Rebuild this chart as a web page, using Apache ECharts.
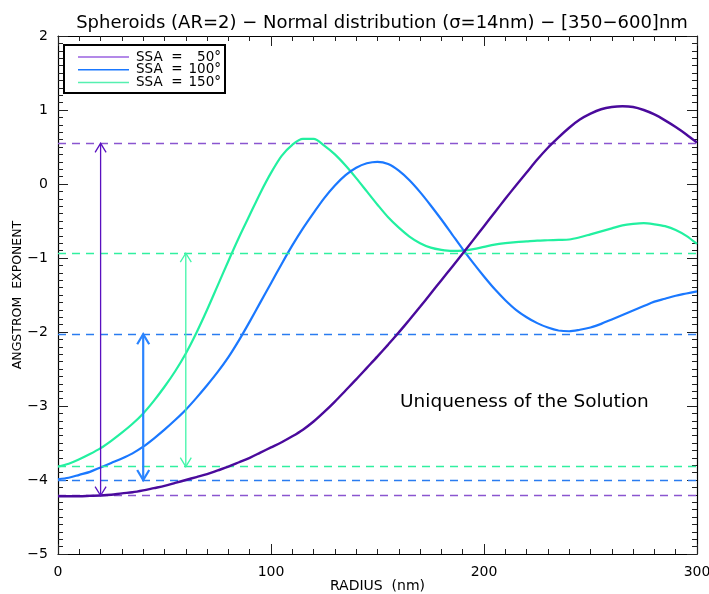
<!DOCTYPE html>
<html>
<head>
<meta charset="utf-8">
<script src="https://cdn.jsdelivr.net/npm/echarts@6/dist/echarts.min.js"></script>
<style>html,body{margin:0;padding:0;background:#fff}#c{width:709px;height:594px}</style>
</head>
<body>
<div id="c"></div>
<script>
// ---- data ----
const radius = [0,5,10,15,20,25,30,35,40,45,50,55,60,65,70,75,80,85,90,95,100,105,110,115,120,125,130,135,140,145,150,155,160,165,170,175,180,185,190,195,200,205,210,215,220,225,230,235,240,245,250,255,260,265,270,275,280,285,290,295,300];
const ssa50 = [-4.22,-4.22,-4.22,-4.215,-4.21,-4.20,-4.18,-4.165,-4.14,-4.11,-4.08,-4.04,-4.00,-3.96,-3.92,-3.87,-3.82,-3.76,-3.70,-3.63,-3.56,-3.49,-3.41,-3.32,-3.21,-3.08,-2.94,-2.79,-2.64,-2.485,-2.33,-2.17,-2.005,-1.835,-1.66,-1.48,-1.30,-1.12,-0.94,-0.755,-0.57,-0.385,-0.20,-0.02,0.155,0.33,0.49,0.63,0.76,0.87,0.95,1.01,1.04,1.05,1.04,1.00,0.94,0.86,0.77,0.67,0.56];
const ssa100 = [-3.99,-3.97,-3.93,-3.89,-3.83,-3.77,-3.71,-3.64,-3.55,-3.44,-3.32,-3.19,-3.05,-2.89,-2.72,-2.54,-2.34,-2.11,-1.86,-1.60,-1.34,-1.08,-0.83,-0.60,-0.39,-0.19,-0.02,0.12,0.22,0.28,0.30,0.27,0.18,0.05,-0.11,-0.29,-0.48,-0.68,-0.88,-1.07,-1.25,-1.42,-1.57,-1.70,-1.80,-1.88,-1.94,-1.98,-1.99,-1.97,-1.94,-1.89,-1.83,-1.77,-1.71,-1.65,-1.59,-1.55,-1.51,-1.48,-1.45];
const ssa150 = [-3.82,-3.78,-3.72,-3.65,-3.57,-3.47,-3.36,-3.24,-3.10,-2.93,-2.74,-2.53,-2.29,-2.01,-1.70,-1.37,-1.04,-0.72,-0.42,-0.12,0.15,0.38,0.53,0.61,0.61,0.52,0.40,0.25,0.08,-0.10,-0.28,-0.45,-0.59,-0.71,-0.80,-0.86,-0.89,-0.905,-0.90,-0.88,-0.85,-0.82,-0.80,-0.785,-0.775,-0.765,-0.76,-0.755,-0.75,-0.72,-0.68,-0.64,-0.60,-0.56,-0.54,-0.53,-0.545,-0.57,-0.62,-0.70,-0.81];
const seriesNames = ['SSA = 50°','SSA = 100°','SSA = 150°'];
const legendNumbers = ['50°','100°','150°'];
const levels50 = [0.55,-4.21];
const levels100 = [-2.03,-4.00];
const levels150 = [-0.935,-3.82];
const arrowX = [20,40,60];
const arrowLow = [-4.21,-4.00,-3.82];
const arrowHigh = [0.55,-2.03,-0.935];
const xTicks = [0,100,200,300];
const yTicks = [-5,-4,-3,-2,-1,0,1,2];

// ---- styles ----
const curveColors = ['#4a0a9c','#1a78ff','#22f0a0'];
const legendColors = ['#9a62e0','#1a78ff','#55f0b0'];
const dashColors = ['#8a55d0','#2a7cf0','#30f0a0'];
const arrowColors = ['#5a10c0','#2a84ff','#40f5a8'];
const arrowWidths = [1.3,2.2,1.3];
const FONT = 'DejaVu Sans';

const chart = echarts.init(document.getElementById('c'), null, {renderer:'canvas'});
const pairs = arr => radius.map((r,i)=>[r,arr[i]]);
const dashLine = (vals,color) => ({
  silent:true, symbol:'none', label:{show:false},
  lineStyle:{color:color,type:[8,6],width:1.3},
  emphasis:{disabled:true},
  data: vals.map(v=>({yAxis:v}))
});
const tickCommon = () => ({
  axisLine:{show:true,onZero:false,lineStyle:{color:'#000',width:1.2}},
  axisTick:{show:true,inside:true,length:10,lineStyle:{color:'#222',width:1}},
  minorTick:{show:true,splitNumber:10,length:5,lineStyle:{color:'#222',width:1}},
  splitLine:{show:false},
  minorSplitLine:{show:false}
});
const fmtNum = v => String(v).replace('-','\u2212');

// legend drawn as graphic (box, sample lines, real text)
const legendGraphic = {
  type:'group', left:63, top:44, silent:true,
  children:[
    {type:'rect',shape:{x:0,y:0,width:161,height:48},style:{fill:'#fff',stroke:'#000',lineWidth:2}}
  ].concat(seriesNames.flatMap((n,i)=>{
    const y = 12 + i*12.8;
    return [
      {type:'line',shape:{x1:14,y1:y,x2:65,y2:y},style:{stroke:legendColors[i],lineWidth:1.5}},
      {type:'text',x:72,y:y,style:{text:'SSA  =',fontFamily:FONT,fontSize:13.5,fill:'#000',verticalAlign:'middle',align:'left'}},
      {type:'text',x:157,y:y,style:{text:legendNumbers[i],fontFamily:FONT,fontSize:13.5,fill:'#000',verticalAlign:'middle',align:'right'}}
    ];
  }))
};

const option = {
  backgroundColor:'#fff',
  animation:false,
  title:{
    text:'Spheroids (AR=2) \u2212 Normal distribution (\u03c3=14nm) \u2212 [350\u2212600]nm',
    left:377, top:9, textAlign:'center',
    textStyle:{fontFamily:FONT,fontSize:18,fontWeight:'normal',color:'#000'}
  },
  grid:{left:58,right:12,top:36,bottom:40,containLabel:false,outerBoundsMode:'none'},
  xAxis:[
    Object.assign({type:'value',min:xTicks[0],max:xTicks[xTicks.length-1],interval:100,position:'bottom',
      name:'RADIUS  (nm)',nameLocation:'middle',nameGap:25,nameMoveOverlap:false,
      nameTextStyle:{fontFamily:FONT,fontSize:14,color:'#000'},
      axisLabel:{fontFamily:FONT,fontSize:14,color:'#000',margin:11,formatter:fmtNum}},tickCommon()),
    Object.assign({type:'value',min:xTicks[0],max:xTicks[xTicks.length-1],interval:100,position:'top',
      axisLabel:{show:false}},tickCommon())
  ],
  yAxis:[
    Object.assign({type:'value',min:yTicks[0],max:yTicks[yTicks.length-1],interval:1,position:'left',
      name:'ANGSTROM  EXPONENT',nameLocation:'middle',nameGap:34,nameRotate:90,nameMoveOverlap:false,
      nameTextStyle:{fontFamily:FONT,fontSize:12.5,color:'#000'},
      axisLabel:{fontFamily:FONT,fontSize:14,color:'#000',margin:10,formatter:fmtNum}},tickCommon()),
    Object.assign({type:'value',min:yTicks[0],max:yTicks[yTicks.length-1],interval:1,position:'right',
      axisLabel:{show:false}},tickCommon())
  ],
  graphic:[
    legendGraphic,
    {type:'text', left:400, top:393, silent:true,
     style:{text:'Uniqueness of the Solution',fontFamily:FONT,fontSize:18.5,fill:'#000'}}
  ],
  series:[
    {name:seriesNames[0],type:'line',data:pairs(ssa50),symbol:'none',smooth:0.3,z:5,
      lineStyle:{color:curveColors[0],width:2.4},itemStyle:{color:curveColors[0]},
      markLine:dashLine(levels50,dashColors[0])},
    {name:seriesNames[1],type:'line',data:pairs(ssa100),symbol:'none',smooth:0.3,z:4,
      lineStyle:{color:curveColors[1],width:2.2},itemStyle:{color:curveColors[1]},
      markLine:dashLine(levels100,dashColors[1])},
    {name:seriesNames[2],type:'line',data:pairs(ssa150),symbol:'none',smooth:0.3,z:3,
      lineStyle:{color:curveColors[2],width:2.2},itemStyle:{color:curveColors[2]},
      markLine:dashLine(levels150,dashColors[2])},
    {name:'arrows',type:'custom',z:6,silent:true,
      data: arrowX.map((x,i)=>[x,arrowLow[i],arrowHigh[i]]),
      encode:{x:0,y:[1,2]},
      renderItem:(params,api)=>{
        const i = params.dataIndex;
        const lo = api.coord([api.value(0),api.value(1)]);
        const hi = api.coord([api.value(0),api.value(2)]);
        const hw = i===1 ? 6 : 5.5, hh = i===1 ? 10 : 9;
        const st = {stroke:arrowColors[i],lineWidth:arrowWidths[i],fill:null};
        return {type:'group',children:[
          {type:'line',shape:{x1:lo[0],y1:lo[1],x2:hi[0],y2:hi[1]},style:st},
          {type:'polyline',shape:{points:[[hi[0]-hw,hi[1]+hh],[hi[0],hi[1]],[hi[0]+hw,hi[1]+hh]]},style:st},
          {type:'polyline',shape:{points:[[lo[0]-hw,lo[1]-hh],[lo[0],lo[1]],[lo[0]+hw,lo[1]-hh]]},style:st}
        ]};
      }}
  ]
};
chart.setOption(option);
</script>
</body>
</html>
